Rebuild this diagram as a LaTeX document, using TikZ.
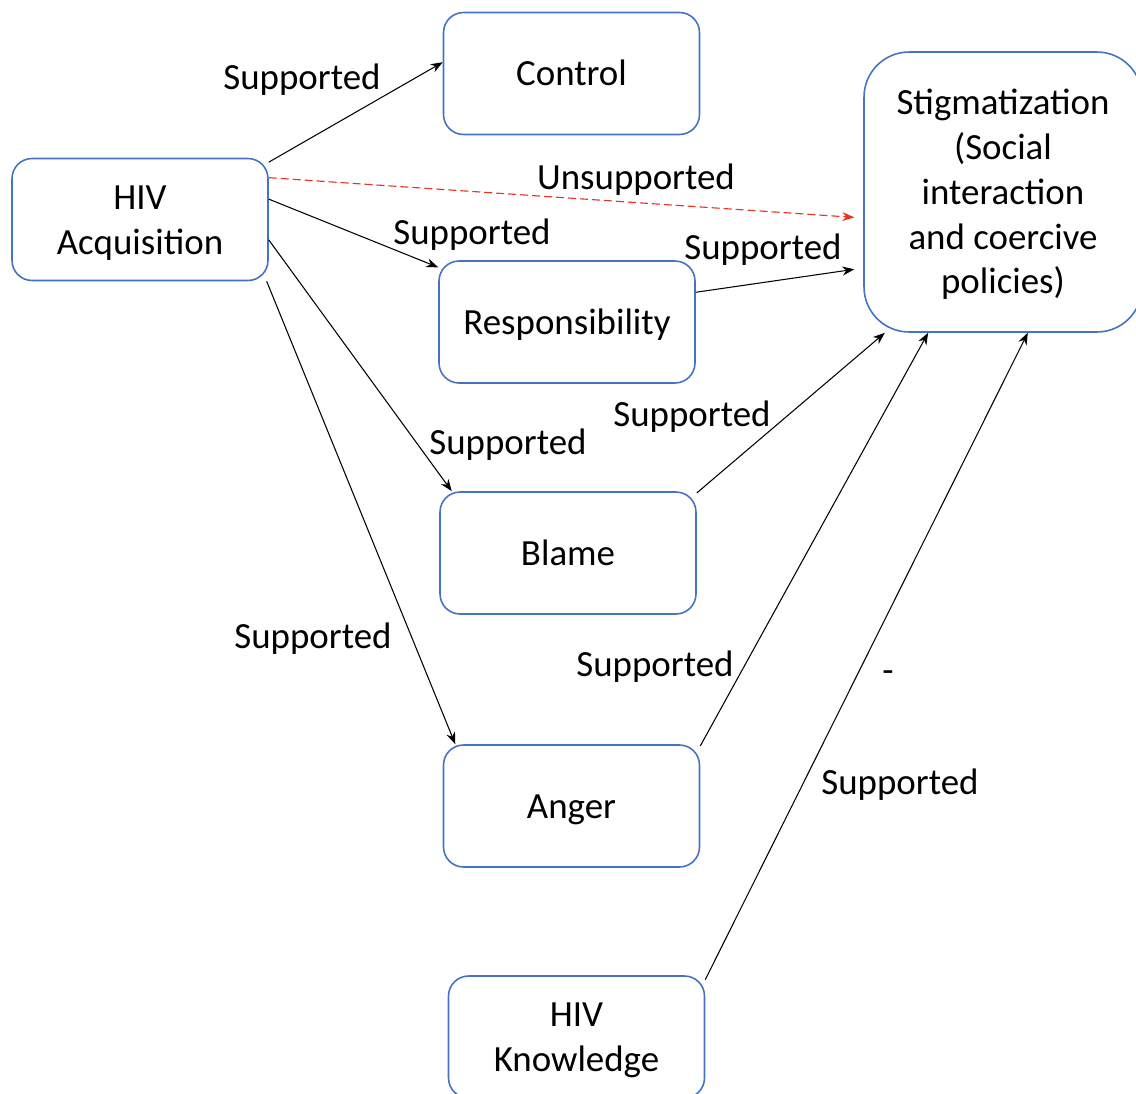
\documentclass[tikz,border=0pt]{standalone}
\usepackage{fontspec}
\setmainfont{Carlito}
\usetikzlibrary{arrows.meta}
\definecolor{boxblue}{RGB}{68,114,196}
\definecolor{dashred}{RGB}{235,51,36}
\begin{document}
\begin{tikzpicture}[x=0.02cm, y=-0.02cm, font=\fontsize{21}{25.5}\selectfont, >={Stealth[length=0.24cm, width=0.18cm]}]
	\tikzstyle{box} = [rectangle, rounded corners=0.4cm, draw=boxblue, line width=0.9pt, minimum width=5.12cm, minimum height=2.44cm, align=center, inner sep=0pt, text height=0.48cm, text depth=0cm]
	\tikzstyle{link} = [->, line width=0.6pt]

	\useasboundingbox (0,0) rectangle (1136,1093);

	\foreach \name/\x/\y/\lines/\text in {acq/140/219.5/1/{HIV\\Acquisition}, ctrl/571.5/73.5/0/Control, resp/567/322/0/Responsibility, blame/568/553/0/Blame, anger/571.5/806/0/Anger, know/576.5/1037/1/{HIV\\Knowledge}} {
		\node[box, text height=0.48cm+0.9cm*\lines] (\name) at (\x, \y) {\text};
	}
	\node[box, rounded corners=0.9cm, minimum width=5.56cm, minimum height=5.6cm, text height=4.08cm] (stig) at (1003, 192) {Stigmatization\\(Social\\interaction\\and coercive\\policies)};

	\draw[link] (acq.24) -- (ctrl.175);
	\draw[link] (acq.9) -- (resp.157);
	\draw[link] (acq.-9) -- (blame.152);
	\draw[link] (acq.-26) -- (anger.152);
	\draw[->, dashed, dashred, line width=0.65pt, dash pattern=on 0.16cm off 0.08cm, shorten >=0.18cm] (acq.18) -- ([yshift=-0.52cm]stig.west);

	\draw[link, shorten >=0.18cm] (resp.13) -- ([yshift=-1.52cm]stig.west);
	\draw[link] (blame.25) -- (stig.230);
	\draw[link] (anger.25) -- (stig.242);
	\draw[link] (know.24) -- (stig.280);

	\foreach \name/\x/\y in {l-ctrl/302/80, l-resp/472/235, l-rs/763/250, l-bs/692/417, l-blame/508/445, l-anger/313/639, l-as/655/667, l-ks/900/785} {
		\node (\name) at (\x, \y) {Supported};
	}
	\node (l-unsup) at (636, 180) {Unsupported};
	\node (dash) at (888, 677) {-};
\end{tikzpicture}
\end{document}
